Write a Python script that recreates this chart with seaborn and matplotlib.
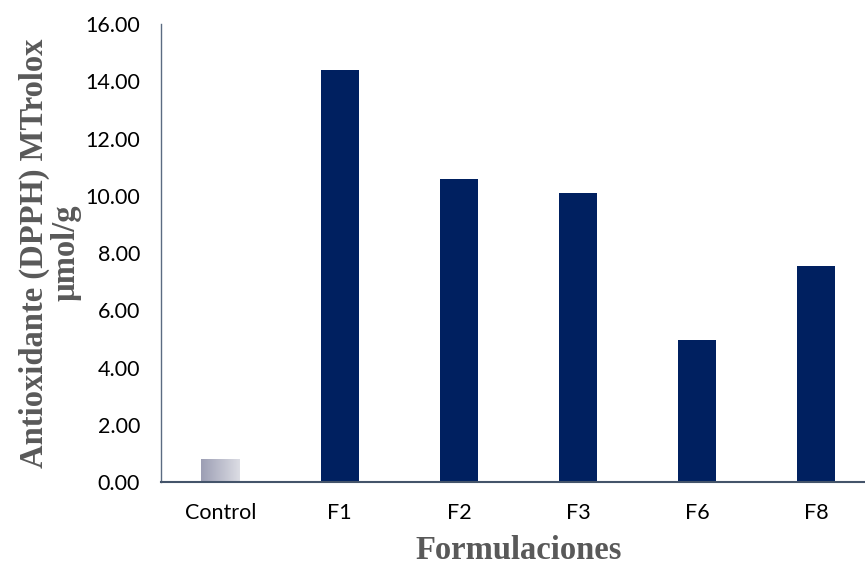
import matplotlib
matplotlib.use("Agg")
import matplotlib.pyplot as plt
import numpy as np
import pandas as pd
import seaborn as sns
from matplotlib.colors import LinearSegmentedColormap

categories = ["Control", "F1", "F2", "F3", "F6", "F8"]
values = [0.80, 14.39, 10.58, 10.10, 4.96, 7.55]
yticks = [0, 2, 4, 6, 8, 10, 12, 14, 16]

sns.set_theme(style="white")
plt.rcParams["font.family"] = ["Lato", "DejaVu Sans"]

df = pd.DataFrame({"Formulaciones": categories, "valor": values})
navy = "#002060"
palette = ["#b8bac8"] + [navy] * (len(categories) - 1)

fig = plt.figure(figsize=(8.65, 5.66), dpi=100)
ax = fig.add_axes([0.1861, 0.1484, 0.8266, 0.8092])

sns.barplot(data=df, x="Formulaciones", y="valor", hue="Formulaciones",
            palette=palette, width=0.32, legend=False, ax=ax,
            saturation=1, edgecolor="none")

ax.set_xlim(-0.5, 5.5)
ax.set_ylim(0, 16)
ax.set_yticks(yticks)
ax.set_yticklabels([f"{v:.2f}" for v in yticks])

# gradient fill for the control bar
ctrl = ax.patches[0]
x0, y0 = ctrl.get_x(), ctrl.get_y()
w, h = ctrl.get_width(), ctrl.get_height()
cmap = LinearSegmentedColormap.from_list("ctrl", ["#9c9eb4", "#dcdde4"])
grad = np.linspace(0, 1, 256).reshape(1, -1)
im = ax.imshow(grad, cmap=cmap, aspect="auto",
               extent=(x0, x0 + w, y0, y0 + h), zorder=ctrl.get_zorder())
im.set_clip_path(ctrl)
ctrl.set_facecolor("none")
ax.set_xlim(-0.5, 5.5)
ax.set_ylim(0, 16)

for side in ["top", "right"]:
    ax.spines[side].set_visible(False)
ax.spines["left"].set_color("#5b6b82")
ax.spines["bottom"].set_color("#44546a")
ax.spines["left"].set_linewidth(1.0)
ax.spines["bottom"].set_linewidth(1.5)
ax.tick_params(axis="both", length=0, labelsize=15.5, colors="#000000")
ax.tick_params(axis="x", pad=15)
ax.tick_params(axis="y", pad=15)

label_font = dict(family=["Liberation Serif", "DejaVu Serif"], weight="bold",
                  size=23.5, color="#595959")
ax.set_xlabel("Formulaciones", labelpad=9, **label_font)
ax.set_ylabel("Antioxidante (DPPH) MTrolox\nµmol/g", labelpad=3,
              linespacing=1.0, **label_font)

fig.savefig("out.png", dpi=100)
